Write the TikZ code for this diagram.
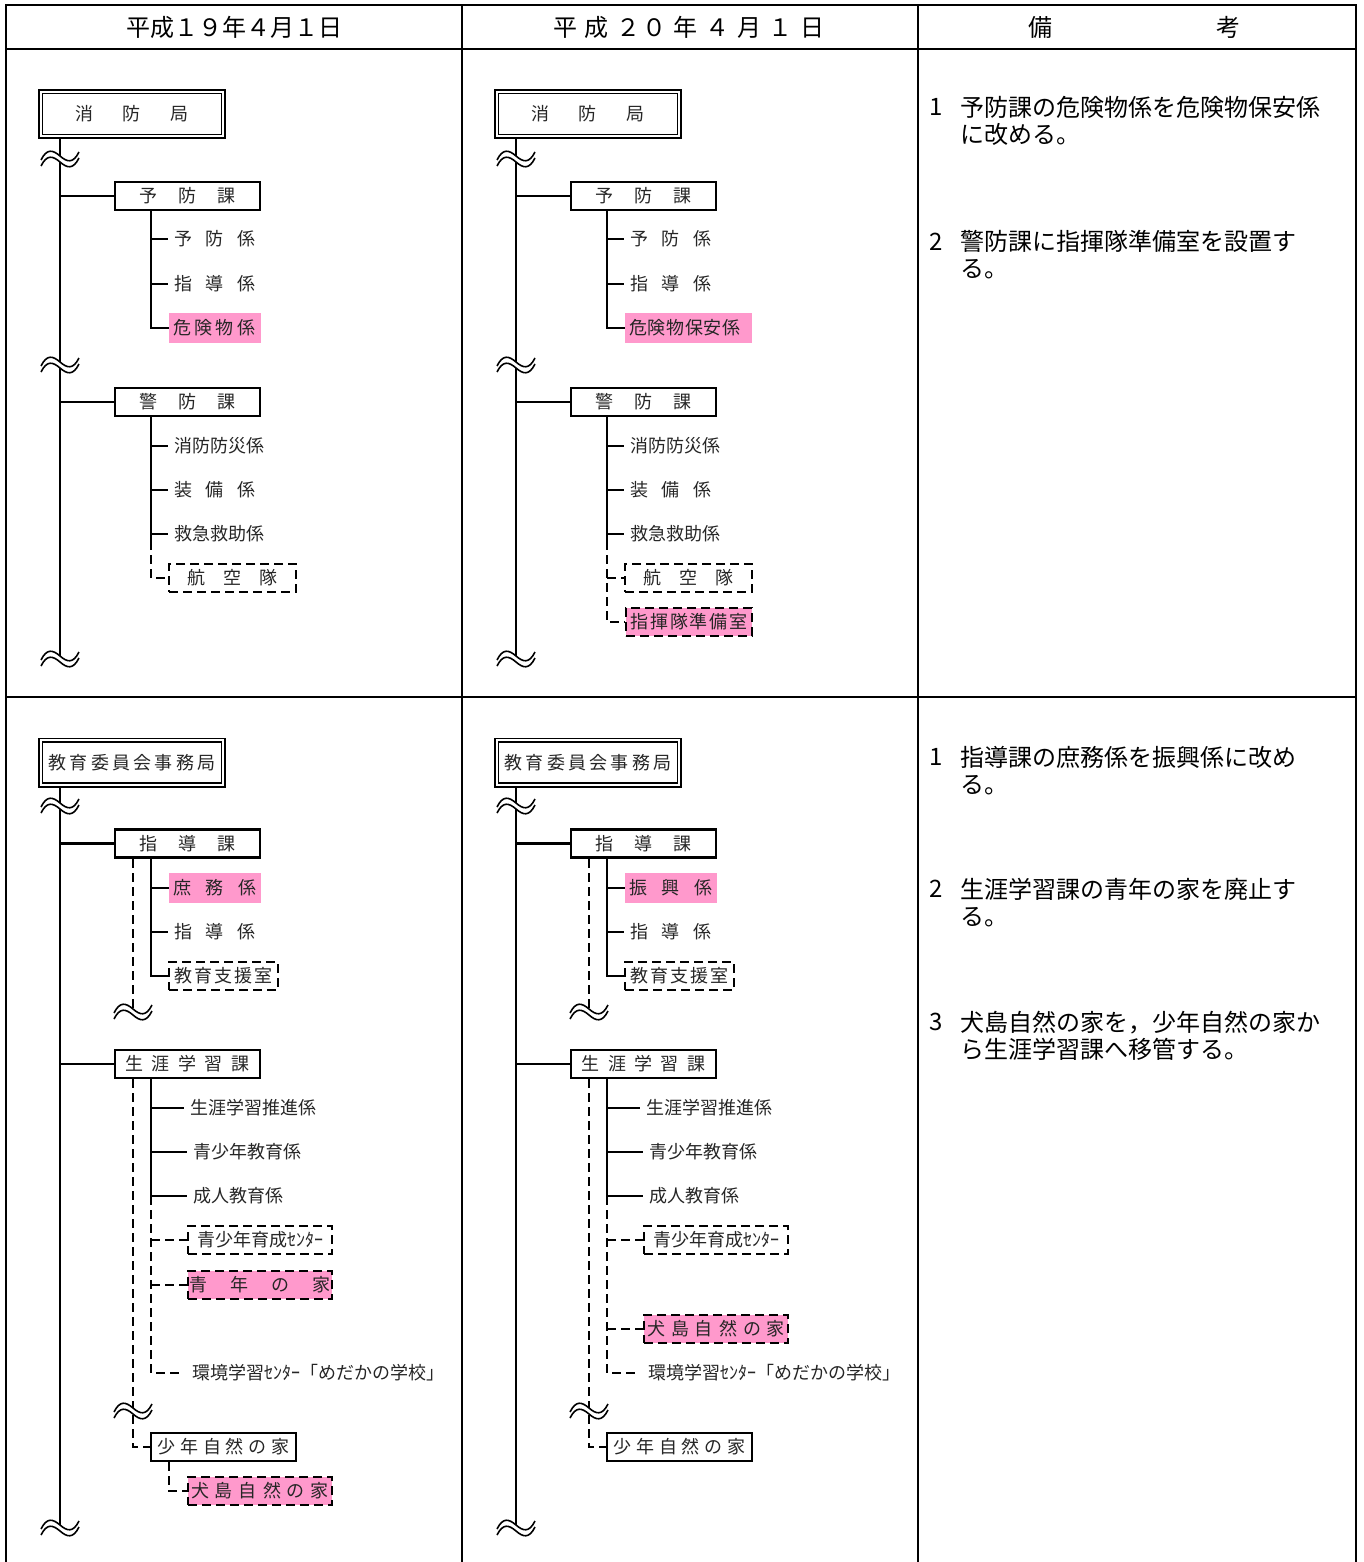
\documentclass[tikz,border=0pt]{standalone}
\usepackage{fontspec}
\setmainfont{Noto Sans CJK JP}
\usepackage{tikz}

\definecolor{hlpink}{HTML}{FF99CC}
\newcommand{\gp}[1]{\hspace{#1pt}}

\tikzset{
  every node/.style={inner sep=0pt, text=black!85, font=\fontsize{18}{20}\selectfont},
  bureau/.style={draw, double, double distance=2pt, line width=1.7pt, minimum width=182.6pt, minimum height=44.6pt},
  section/.style={draw, line width=2.2pt, minimum width=145pt, minimum height=28pt},
  leaf/.style={anchor=west, inner xsep=6pt},
  hlbox/.style={fill=hlpink, anchor=west, inner xsep=4pt, minimum height=30pt, align=left},
  dbox/.style={draw, line width=2pt, dash pattern=on 9pt off 5pt, minimum height=28pt},
  trunk/.style={line width=2.6pt},
  conn/.style={line width=2.2pt},
  dconn/.style={line width=2.2pt, dash pattern=on 9pt off 5pt},
  tableline/.style={line width=2.6pt},
  head/.style={text=black, font=\fontsize{24}{26}\selectfont},
  note/.style={text=black, anchor=west, align=left, font=\fontsize{24}{27}\selectfont},
  wavebreak/.pic={
    \fill[white] (-19,1) .. controls (-13,-11) and (-7,-9) .. (0,-3) .. controls (7,3) and (13,5) .. (19,-7)
      -- (19,-1) .. controls (13,11) and (7,9) .. (0,3) .. controls (-7,-3) and (-13,-5) .. (-19,7) -- cycle;
    \draw[line width=1.6pt] (-19,1) .. controls (-13,-11) and (-7,-9) .. (0,-3) .. controls (7,3) and (13,5) .. (19,-7);
    \draw[line width=1.6pt] (-19,7) .. controls (-13,-5) and (-7,-3) .. (0,3) .. controls (7,9) and (13,11) .. (19,-1);
  }
}

\begin{document}
\begin{tikzpicture}[x=1pt, y=-1pt]
\useasboundingbox (0,0) rectangle (1363,1562);

%%% table

% rules
\draw [tableline] (6,1562) -- (6,5) -- (1356,5) -- (1356,1562);
\draw [tableline] (462,5) -- (462,1562);
\draw [tableline] (918,5) -- (918,1562);
\draw [tableline] (6,49) -- (1356,49);
\draw [tableline] (6,697) -- (1356,697);

% headings
\node [head] (hd1) at (234.5,27) {平成１９年４月１日};
\node [head] (hd2) at (689,27) {平\gp{7.7}成\gp{7.7}２\gp{1.5}０\gp{7.7}年\gp{7.7}４\gp{7.7}月\gp{7.7}１\gp{7.7}日};
\node [head] (hd3) at (1134,27) {備\gp{164}考};

%%% nodes

% fire department, H19
\node [bureau] (fd1) at (132,114) {消\gp{29.5}防\gp{29.5}局};
\coordinate (fdt1) at (60,139);
\coordinate (fdb1) at (60,659);
\node [section] (yk1) at (187.5,196) {予\gp{21.5}防\gp{21.5}課};
\coordinate (yks1) at (151,211);
\node [leaf] (yb1) at (168,239) {予\gp{13.5}防\gp{13.5}係};
\node [leaf] (sd1) at (168,284) {指\gp{13.5}導\gp{13.5}係};
\node [hlbox, text width=84pt] (kk1) at (169,328) {危\gp{3.3}険\gp{3.3}物\gp{3.3}係};
\node [section] (kb1) at (187.5,402) {警\gp{21.5}防\gp{21.5}課};
\coordinate (kbs1) at (151,417);
\coordinate (kbm1) at (151,541);
\node [leaf] (sb1) at (168,446) {消防防災係};
\node [leaf] (sbh1) at (168,490) {装\gp{13.5}備\gp{13.5}係};
\node [leaf] (kq1) at (168,534) {救急救助係};
\node [dbox, minimum width=127pt] (kt1) at (232.5,578) {航\gp{18}空\gp{18}隊};

% fire department, H20
\node [bureau] (fd2) at (588,114) {消\gp{29.5}防\gp{29.5}局};
\coordinate (fdt2) at (516,139);
\coordinate (fdb2) at (516,659);
\node [section] (yk2) at (643.5,196) {予\gp{21.5}防\gp{21.5}課};
\coordinate (yks2) at (607,211);
\node [leaf] (yb2) at (624,239) {予\gp{13.5}防\gp{13.5}係};
\node [leaf] (sd2) at (624,284) {指\gp{13.5}導\gp{13.5}係};
\node [hlbox, text width=119pt] (kk2) at (625,328) {危\gp{0.6}険\gp{0.6}物\gp{0.6}保\gp{0.6}安\gp{0.6}係};
\node [section] (kb2) at (643.5,402) {警\gp{21.5}防\gp{21.5}課};
\coordinate (kbs2) at (607,417);
\coordinate (kbm2) at (607,541);
\node [leaf] (sb2) at (624,446) {消防防災係};
\node [leaf] (sbh2) at (624,490) {装\gp{13.5}備\gp{13.5}係};
\node [leaf] (kq2) at (624,534) {救急救助係};
\node [dbox, minimum width=127pt] (kt2) at (688.5,578) {航\gp{18}空\gp{18}隊};
\node [dbox, fill=hlpink, minimum width=126pt] (sj2) at (689,622) {指\gp{1.8}揮\gp{1.8}隊\gp{1.8}準\gp{1.8}備\gp{1.8}室};

% board of education, H19
\node [bureau] (ed1) at (132,762.5) {教\gp{3.3}育\gp{3.3}委\gp{3.3}員\gp{3.3}会\gp{3.3}事\gp{3.3}務\gp{3.3}局};
\coordinate (edt1) at (60,787);
\coordinate (edb1) at (60,1528);
\node [section] (sk1) at (187.5,843.5) {指\gp{21.5}導\gp{21.5}課};
\coordinate (skd1) at (133,859);
\coordinate (skw1) at (133,1012);
\coordinate (sks1) at (151,859);
\node [hlbox, text width=84pt] (sm1) at (169,888) {庶\gp{14.5}務\gp{14.5}係};
\node [leaf] (sg1) at (168,932) {指\gp{13.5}導\gp{13.5}係};
\node [dbox, minimum width=109pt] (ks1) at (223.5,976) {教\gp{2.2}育\gp{2.2}支\gp{2.2}援\gp{2.2}室};
\node [section] (sgk1) at (187.5,1064) {生\gp{8.5}涯\gp{8.5}学\gp{8.5}習\gp{8.5}課};
\coordinate (sgd1) at (133,1079);
\coordinate (sgw1) at (133,1411);
\coordinate (sgs1) at (151,1079);
\coordinate (sgm1) at (151,1196);
\node [leaf] (ps1) at (184,1108) {生涯学習推進係};
\node [leaf] (ys1) at (187,1152) {青少年教育係};
\node [leaf] (ad1) at (187,1196) {成人教育係};
\node [dbox, minimum width=144pt] (ic1) at (260,1240) {青少年育成ｾﾝﾀｰ};
\node [dbox, fill=hlpink, minimum width=144pt] (yh1) at (260,1285) {青\gp{22.7}年\gp{22.7}の\gp{22.7}家};
\node [leaf, inner xsep=10pt] (kg1) at (182,1373) {環境学習ｾﾝﾀｰ「めだかの学校」};
\node [section] (sh1) at (223.5,1447) {少\gp{4.8}年\gp{4.8}自\gp{4.8}然\gp{4.8}の\gp{4.8}家};
\coordinate (shd1) at (169,1462);
\node [dbox, fill=hlpink, minimum width=144pt] (ih1) at (260,1491) {犬\gp{6}島\gp{6}自\gp{6}然\gp{6}の\gp{6}家};

% board of education, H20
\node [bureau] (ed2) at (588,762.5) {教\gp{3.3}育\gp{3.3}委\gp{3.3}員\gp{3.3}会\gp{3.3}事\gp{3.3}務\gp{3.3}局};
\coordinate (edt2) at (516,787);
\coordinate (edb2) at (516,1528);
\node [section] (sk2) at (643.5,843.5) {指\gp{21.5}導\gp{21.5}課};
\coordinate (skd2) at (589,859);
\coordinate (skw2) at (589,1012);
\coordinate (sks2) at (607,859);
\node [hlbox, text width=84pt] (sn2) at (625,888) {振\gp{14.5}興\gp{14.5}係};
\node [leaf] (sg2) at (624,932) {指\gp{13.5}導\gp{13.5}係};
\node [dbox, minimum width=109pt] (ks2) at (679.5,976) {教\gp{2.2}育\gp{2.2}支\gp{2.2}援\gp{2.2}室};
\node [section] (sgk2) at (643.5,1064) {生\gp{8.5}涯\gp{8.5}学\gp{8.5}習\gp{8.5}課};
\coordinate (sgd2) at (589,1079);
\coordinate (sgw2) at (589,1411);
\coordinate (sgs2) at (607,1079);
\coordinate (sgm2) at (607,1196);
\node [leaf] (ps2) at (640,1108) {生涯学習推進係};
\node [leaf] (ys2) at (643,1152) {青少年教育係};
\node [leaf] (ad2) at (643,1196) {成人教育係};
\node [dbox, minimum width=144pt] (ic2) at (716,1240) {青少年育成ｾﾝﾀｰ};
\node [dbox, fill=hlpink, minimum width=144pt] (ih2) at (716,1329) {犬\gp{6}島\gp{6}自\gp{6}然\gp{6}の\gp{6}家};
\node [leaf, inner xsep=10pt] (kg2) at (638,1373) {環境学習ｾﾝﾀｰ「めだかの学校」};
\node [section] (sh2) at (679.5,1447) {少\gp{4.8}年\gp{4.8}自\gp{4.8}然\gp{4.8}の\gp{4.8}家};

% remarks
\node [note] (r1n) at (929,107) {1};
\node [note] (r1) at (960,120.5) {予防課の危険物係を危険物保安係\\に改める。};
\node [note] (r2n) at (929,242) {2};
\node [note] (r2) at (960,255) {警防課に指揮隊準備室を設置す\\る。};
\node [note] (r3n) at (929,757) {1};
\node [note] (r3) at (960,771) {指導課の庶務係を振興係に改め\\る。};
\node [note] (r4n) at (929,889) {2};
\node [note] (r4) at (960,902.5) {生涯学習課の青年の家を廃止す\\る。};
\node [note] (r5n) at (929,1022) {3};
\node [note] (r5) at (960,1035.5) {犬島自然の家を，少年自然の家か\\ら生涯学習課へ移管する。};

%%% edges

% fire department, H19
\draw (fdt1) [trunk] -- (fdb1);
\draw (fdt1 |- yk1.west) [conn] -- (yk1.west);
\draw (fdt1 |- kb1.west) [conn] -- (kb1.west);
\draw (yks1) [conn] |- (kk1.west);
\draw (yks1 |- yb1.west) [conn] -- (yb1.west);
\draw (yks1 |- sd1.west) [conn] -- (sd1.west);
\draw (kbs1) [conn] -- (kbm1);
\draw (kbs1 |- sb1.west) [conn] -- (sb1.west);
\draw (kbs1 |- sbh1.west) [conn] -- (sbh1.west);
\draw (kbs1 |- kq1.west) [conn] -- (kq1.west);
\draw (kbm1) [dconn] |- (kt1.west);

% fire department, H20
\draw (fdt2) [trunk] -- (fdb2);
\draw (fdt2 |- yk2.west) [conn] -- (yk2.west);
\draw (fdt2 |- kb2.west) [conn] -- (kb2.west);
\draw (yks2) [conn] |- (kk2.west);
\draw (yks2 |- yb2.west) [conn] -- (yb2.west);
\draw (yks2 |- sd2.west) [conn] -- (sd2.west);
\draw (kbs2) [conn] -- (kbm2);
\draw (kbs2 |- sb2.west) [conn] -- (sb2.west);
\draw (kbs2 |- sbh2.west) [conn] -- (sbh2.west);
\draw (kbs2 |- kq2.west) [conn] -- (kq2.west);
\draw (kbm2) [dconn] |- (sj2.west);
\draw (kbm2 |- kt2.west) [dconn] -- (kt2.west);

% board of education, H19
\draw (edt1) [trunk] -- (edb1);
\draw (edt1 |- sk1.west) [conn] -- (sk1.west);
\draw (edt1 |- sgk1.west) [conn] -- (sgk1.west);
\draw (skd1) [dconn] -- (skw1);
\draw (sks1) [conn] |- (ks1.west);
\draw (sks1 |- sm1.west) [conn] -- (sm1.west);
\draw (sks1 |- sg1.west) [conn] -- (sg1.west);
\draw (sgd1) [dconn] |- (sh1.west);
\draw (sgs1) [conn] -- (sgm1);
\draw (sgs1 |- ps1.west) [conn] -- (ps1.west);
\draw (sgs1 |- ys1.west) [conn] -- (ys1.west);
\draw (sgs1 |- ad1.west) [conn] -- (ad1.west);
\draw (sgm1) [dconn] |- (kg1.west);
\draw (sgm1 |- ic1.west) [dconn] -- (ic1.west);
\draw (sgm1 |- yh1.west) [dconn] -- (yh1.west);
\draw (shd1) [dconn] |- (ih1.west);

% board of education, H20
\draw (edt2) [trunk] -- (edb2);
\draw (edt2 |- sk2.west) [conn] -- (sk2.west);
\draw (edt2 |- sgk2.west) [conn] -- (sgk2.west);
\draw (skd2) [dconn] -- (skw2);
\draw (sks2) [conn] |- (ks2.west);
\draw (sks2 |- sn2.west) [conn] -- (sn2.west);
\draw (sks2 |- sg2.west) [conn] -- (sg2.west);
\draw (sgd2) [dconn] |- (sh2.west);
\draw (sgs2) [conn] -- (sgm2);
\draw (sgs2 |- ps2.west) [conn] -- (ps2.west);
\draw (sgs2 |- ys2.west) [conn] -- (ys2.west);
\draw (sgs2 |- ad2.west) [conn] -- (ad2.west);
\draw (sgm2) [dconn] |- (kg2.west);
\draw (sgm2 |- ic2.west) [dconn] -- (ic2.west);
\draw (sgm2 |- ih2.west) [dconn] -- (ih2.west);

% breaks
\pic at (60,159) {wavebreak};
\pic at (60,365) {wavebreak};
\pic at (fdb1) {wavebreak};
\pic at (516,159) {wavebreak};
\pic at (516,365) {wavebreak};
\pic at (fdb2) {wavebreak};
\pic at (60,806) {wavebreak};
\pic at (edb1) {wavebreak};
\pic at (skw1) {wavebreak};
\pic at (sgw1) {wavebreak};
\pic at (516,806) {wavebreak};
\pic at (edb2) {wavebreak};
\pic at (skw2) {wavebreak};
\pic at (sgw2) {wavebreak};
\end{tikzpicture}
\end{document}
